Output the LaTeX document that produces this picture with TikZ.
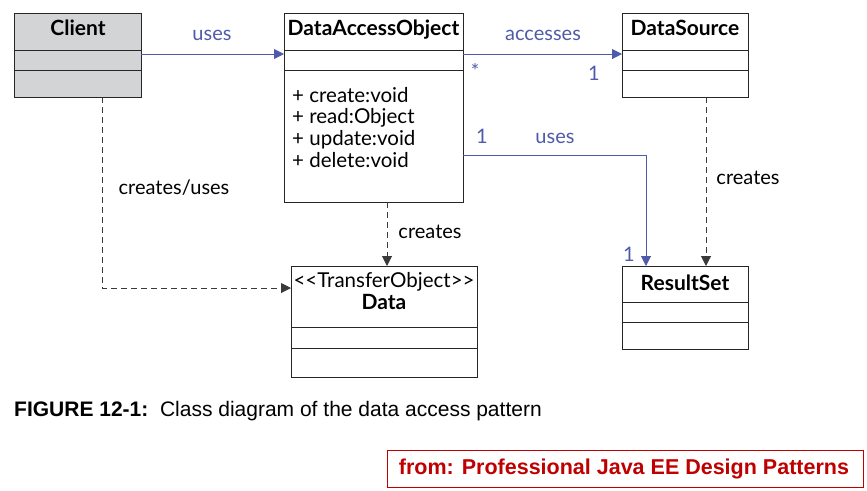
\documentclass[tikz,border=0pt]{standalone}
\usepackage{fontspec}
\setmainfont{Lato}
\newfontfamily\capfont{Liberation Sans}
\usetikzlibrary{arrows.meta}
\definecolor{umlblue}{HTML}{4F5BA8}
\definecolor{clientgrey}{HTML}{D3D4D6}
\definecolor{credred}{HTML}{C00000}
\definecolor{dashgrey}{HTML}{3A3A3A}
\tikzset{
  box/.style={draw=black!85, line width=1.2pt, anchor=north west, inner sep=0pt},
  sep/.style={draw=black!85, line width=1pt},
  title/.style={font=\fontsize{21}{23}\selectfont\bfseries, anchor=base, inner sep=0pt},
  assoc/.style={draw=umlblue, line width=1pt, -{Triangle[length=10pt,width=10pt]}},
  dep/.style={draw=dashgrey, line width=1pt, dash pattern=on 6pt off 4pt, -{Triangle[length=10pt,width=10pt]}},
  blab/.style={text=umlblue, font=\fontsize{20}{22}\selectfont, inner sep=0pt, anchor=base},
  klab/.style={text=black, font=\fontsize{20}{22}\selectfont, inner sep=0pt},
  meth/.style={anchor=base west, inner sep=0pt, font=\fontsize{20.5}{22}\selectfont},
}
\begin{document}
\begin{tikzpicture}[x=1pt,y=-1pt]
\useasboundingbox (0,0) rectangle (867,490);
% Client
\node[box, fill=clientgrey, minimum width=127pt, minimum height=84pt] (client) at (14,13) {};
\node[title] (clientT) at (78,35) {Client};
\draw[sep] (14,50) -- (141,50);
\draw[sep] (14,70) -- (141,70);
% DataAccessObject
\node[box, minimum width=179pt, minimum height=189pt] (dao) at (284,13) {};
\node[title] (daoT) at (373.5,35) {DataAccessObject};
\draw[sep] (284,50) -- (463,50);
\draw[sep] (284,70) -- (463,70);
\node[meth] (daoM1) at (292,102) {+ create:void};
\node[meth] (daoM2) at (292,123.5) {+ read:Object};
\node[meth] (daoM3) at (292,145) {+ update:void};
\node[meth] (daoM4) at (292,167) {+ delete:void};
% DataSource
\node[box, minimum width=126pt, minimum height=84pt] (ds) at (622,13) {};
\node[title] (dsT) at (685,35) {DataSource};
\draw[sep] (622,50) -- (748,50);
\draw[sep] (622,70) -- (748,70);
% Data
\node[box, minimum width=186pt, minimum height=111pt] (data) at (291,266) {};
\node[anchor=base, inner sep=0pt, font=\fontsize{20.5}{22}\selectfont] (dataS) at (384,287) {<{}<TransferObject>{}>};
\node[title] (dataT) at (384,309) {Data};
\draw[sep] (291,327) -- (477,327);
\draw[sep] (291,348) -- (477,348);
% ResultSet
\node[box, minimum width=126pt, minimum height=83pt] (rs) at (622,266) {};
\node[title] (rsT) at (685,290) {ResultSet};
\draw[sep] (622,302) -- (748,302);
\draw[sep] (622,322) -- (748,322);
% connectors
\coordinate (c1a) at (141,54);
\coordinate (c1b) at (284,54);
\draw[assoc] (c1a) -- (c1b);
\node[blab] (l1) at (212,40) {uses};
\coordinate (c2a) at (463,54);
\coordinate (c2b) at (622,54);
\draw[assoc] (c2a) -- (c2b);
\node[blab] (l2) at (543,40) {accesses};
\node[blab] (m2a) at (475,78) {*};
\node[blab] (m2b) at (594,80) {1};
\coordinate (c3a) at (463,155);
\coordinate (c3k) at (646,155);
\coordinate (c3b) at (646,266);
\draw[assoc] (c3a) -- (c3k) -- (c3b);
\node[blab] (l3) at (555,143) {uses};
\node[blab] (m3a) at (482,143) {1};
\node[blab] (m3b) at (629,261) {1};
\coordinate (c4a) at (706,97);
\coordinate (c4b) at (706,266);
\draw[dep] (c4a) -- (c4b);
\node[klab] (l4) at (748,178) {creates};
\coordinate (c5a) at (387,202);
\coordinate (c5b) at (387,266);
\draw[dep] (c5a) -- (c5b);
\node[klab] (l5) at (430,232) {creates};
\coordinate (c6a) at (102,97);
\coordinate (c6k) at (102,288);
\coordinate (c6b) at (291,288);
\draw[dep] (c6a) -- (c6k) -- (c6b);
\node[klab] (l6) at (174,188) {creates/uses};
% caption
\node[anchor=base west, inner sep=0pt, font=\capfont\fontsize{21}{23}\selectfont] (cap) at (14,416) {\textbf{FIGURE 12-1:}\ \ Class diagram of the data access pattern};
% credit
\node[draw=credred, line width=1pt, anchor=north west, minimum width=476pt, minimum height=37pt, inner sep=0pt] (cred) at (387,450) {};
\node[text=credred, font=\capfont\fontsize{21.5}{23}\selectfont\bfseries, inner sep=0pt] (credT) at (624,468.5) {from: Professional Java EE Design Patterns};
\end{tikzpicture}
\end{document}
